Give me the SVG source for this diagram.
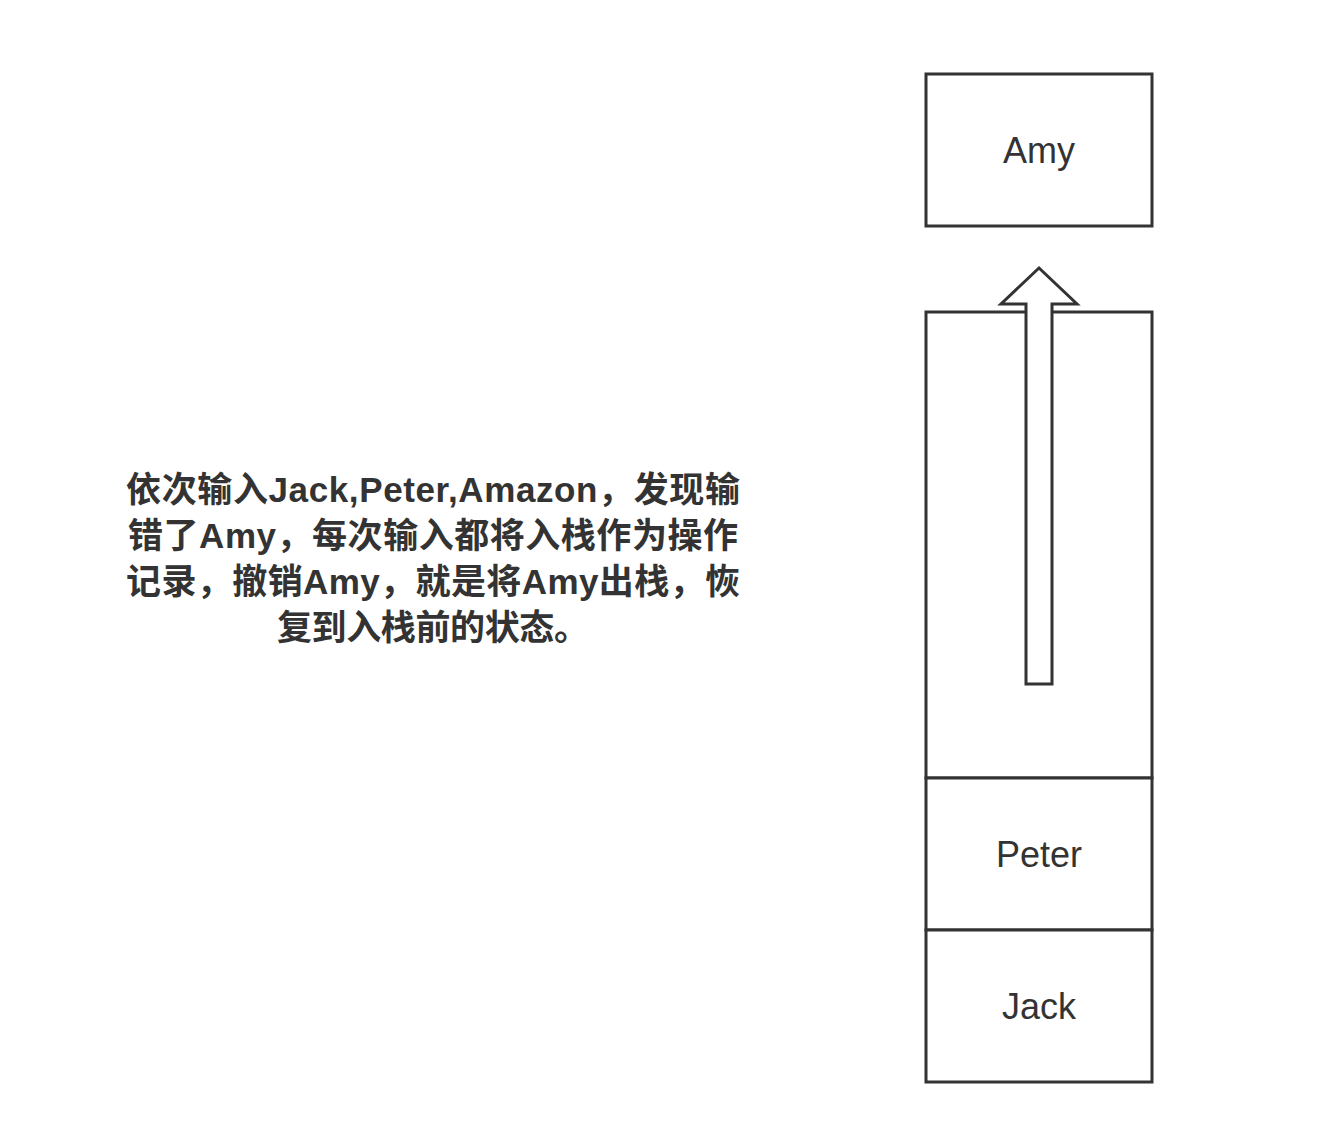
<svg xmlns="http://www.w3.org/2000/svg" width="1324" height="1146" viewBox="0 0 1324 1146">
<style>
.box{fill:#fff;stroke:#333;stroke-width:3}
.lbl{font-family:"Liberation Sans","Noto Sans CJK SC",sans-serif;font-size:36px;fill:#333;text-anchor:middle}
.note{font-family:"Liberation Sans","Noto Sans CJK SC",sans-serif;font-size:35px;font-weight:bold;fill:#333;text-anchor:middle}
</style>
<rect width="1324" height="1146" fill="#fff"/>
<g id="amy">
<rect class="box" x="926" y="74" width="226" height="152"/>
<text class="lbl" x="1039" y="163">Amy</text>
</g>
<g id="stack">
<rect class="box" x="926" y="312" width="226" height="466"/>
</g>
<g id="peter">
<rect class="box" x="926" y="778" width="226" height="152"/>
<text class="lbl" x="1039" y="867">Peter</text>
</g>
<g id="jack">
<rect class="box" x="926" y="930" width="226" height="152"/>
<text class="lbl" x="1039" y="1019">Jack</text>
</g>
<g id="connectors">
<path d="M1026,684 L1026,304 L1001,304 L1039,268 L1077,304 L1052,304 L1052,684 Z" fill="#fff" stroke="#333" stroke-width="3" stroke-linejoin="miter"/>
</g>
<g id="note">
<text class="note" x="433" y="502" textLength="614" lengthAdjust="spacing">依次输入Jack,Peter,Amazon，发现输</text>
<text class="note" x="433" y="548" textLength="610" lengthAdjust="spacing">错了Amy，每次输入都将入栈作为操作</text>
<text class="note" x="433" y="594" textLength="614" lengthAdjust="spacing">记录，撤销Amy，就是将Amy出栈，恢</text>
<text class="note" x="433" y="640" textLength="312" lengthAdjust="spacing">复到入栈前的状态。</text>
</g>
</svg>
